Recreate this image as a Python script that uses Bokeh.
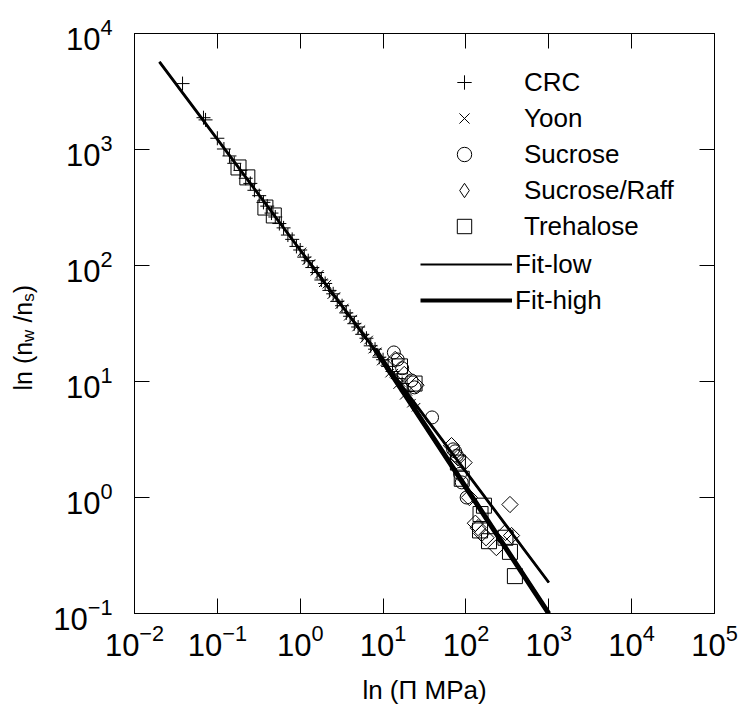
import math
from bokeh.plotting import figure
from bokeh.layouts import row
from bokeh.models import (LogAxis, Legend, LegendItem, Label, FixedTicker, Range1d,
                          CustomJSTickFormatter)
from bokeh.embed import file_html
from bokeh.resources import INLINE

# ---------------- data ----------------
x_ticks = [1e-2, 1e-1, 1e0, 1e1, 1e2, 1e3, 1e4, 1e5]
y_ticks = [1e-1, 1e0, 1e1, 1e2, 1e3, 1e4]

crc_x = [0.038, 0.068, 0.072, 0.10, 0.12, 0.14, 0.16, 0.19, 0.22, 0.25, 0.28, 0.32,
         0.36, 0.40, 0.45, 0.50, 0.56, 0.63, 0.71, 0.80, 0.90, 1.0, 1.12, 1.25, 1.4,
         1.6, 1.8, 2.0, 2.25, 2.5, 2.8, 3.2, 3.6, 4.0, 4.5, 5.0, 5.6, 6.3, 7.1, 8.0,
         9.0, 10, 11.5, 13, 15, 17, 20]
crc_y = [3700, 1880, 1800, 1250, 1010, 880, 760, 660, 565, 510, 445, 400,
         350, 325, 283, 262, 230, 211, 183, 168, 146, 136, 118, 110, 96,
         87, 75, 70, 61, 57, 49, 45, 39, 36.5, 31.5, 29.5, 25.5, 23.6, 20.3, 19.0,
         16.2, 15.4, 13.5, 12.2, 10.6, 9.6, 8.2]

yoon_x = [1.05, 1.2, 1.35, 1.5, 1.7, 1.9, 2.1, 2.4, 2.7, 3.0, 3.4, 3.8, 4.3, 4.8,
          5.4, 6.0, 6.7, 7.5, 8.5, 9.5, 10.5, 12, 13.5, 15, 16.5, 18, 20, 22, 25]
yoon_y = [131, 110, 104, 89, 84, 71, 69, 56, 54, 46, 43, 36.5, 34.5, 29.5,
          28, 23.5, 22.8, 19, 18, 15, 14.8, 11.8, 11.8, 9.4, 9.8, 7.6, 8.2, 6.5, 6.0]

suc_x = [13.5, 15, 17, 22, 24, 39, 70, 74, 78, 85, 89, 102]
suc_y = [17.8, 15.5, 13, 10.2, 8.9, 4.9, 2.6, 2.5, 2.3, 1.6, 1.35, 1.0]

raff_x = [14, 18, 25, 67, 80, 95, 110, 130, 140, 155, 175, 233, 300, 340, 355]
raff_y = [15.5, 11.5, 9.3, 2.8, 2.2, 2.0, 1.0, 0.6, 0.55, 0.49, 0.45, 0.37, 0.5, 0.87, 0.47]

treh_x = [0.18, 0.23, 0.38, 0.48, 16, 24, 80, 89, 148, 150, 165, 190, 300, 340, 390]
treh_y = [700, 575, 316, 270, 13.5, 9.6, 2.0, 1.45, 0.52, 0.72, 0.85, 0.42, 0.45, 0.34, 0.21]

fit_low_x = [0.02, 1000]
fit_low_y = [5700, 0.185]
fit_high_x = [8, 1000]
fit_high_y = [19, 0.1]

FONT = "Liberation Sans"
LABEL_W = 50  # width of the strip that carries the y-axis title
H = 719

# ---------------- main figure ----------------
p = figure(width=748 - LABEL_W, height=H, x_axis_type="log", y_axis_type="log",
           x_range=Range1d(1e-2, 1e5), y_range=Range1d(1e-1, 1e4),
           output_backend="svg", toolbar_location=None,
           min_border_left=132 - LABEL_W, min_border_right=34, min_border_top=33,
           min_border_bottom=106)
p.xgrid.visible = False
p.ygrid.visible = False
p.outline_line_color = "black"
p.outline_line_width = 1
p.background_fill_color = "white"
p.border_fill_color = "white"

for ax, ticks in ((p.xaxis[0], x_ticks), (p.yaxis[0], y_ticks)):
    ax.ticker = FixedTicker(ticks=ticks)
    ax.major_tick_in = 15
    ax.major_tick_out = 0
    ax.minor_tick_line_color = None
    ax.axis_line_color = "black"
    ax.major_tick_line_color = "black"
    ax.major_label_text_font = FONT
    ax.major_label_text_font_size = "31px"
    ax.major_label_text_color = "black"

p.xaxis[0].major_label_standoff = 10
p.yaxis[0].major_label_standoff = 22
p.xaxis[0].axis_label = "ln (\u03a0 MPa)"
p.xaxis[0].axis_label_text_font = FONT
p.xaxis[0].axis_label_text_font_size = "26px"
p.xaxis[0].axis_label_text_font_style = "normal"
p.xaxis[0].axis_label_text_color = "black"
p.xaxis[0].axis_label_standoff = 16

blank = CustomJSTickFormatter(code="return '';")
top = LogAxis(ticker=FixedTicker(ticks=x_ticks), formatter=blank, major_tick_in=15,
              major_tick_out=0, minor_tick_line_color=None, axis_line_color="black",
              major_label_standoff=0)
right = LogAxis(ticker=FixedTicker(ticks=y_ticks), formatter=blank, major_tick_in=15,
                major_tick_out=0, minor_tick_line_color=None, axis_line_color="black",
                major_label_standoff=0)
p.add_layout(top, "above")
p.add_layout(right, "right")

# ---------------- glyphs ----------------
# legend proxies for the fit lines (drawn underneath the real, thicker lines)
r_low_leg = p.line(fit_low_x, fit_low_y, line_color="black", line_width=2)
r_high_leg = p.line(fit_high_x, fit_high_y, line_color="black", line_width=4)

r_low = p.line(fit_low_x, fit_low_y, line_color="black", line_width=2.8)
r_high = p.line(fit_high_x, fit_high_y, line_color="black", line_width=5)

r_crc = p.scatter(crc_x, crc_y, marker="cross", size=14, line_color="black",
                  line_width=1, fill_color=None)
r_yoon = p.scatter(yoon_x, yoon_y, marker="x", size=12, line_color="black",
                   line_width=1, fill_color=None)
r_suc = p.scatter(suc_x, suc_y, marker="circle", size=13, line_color="black",
                  line_width=1, fill_color=None)
r_raff = p.scatter(raff_x, raff_y, marker="square", angle=math.pi / 4, size=11.5,
                   line_color="black", line_width=1, fill_color=None)
r_treh = p.scatter(treh_x, treh_y, marker="square", size=15, line_color="black",
                   line_width=1, fill_color=None)

# legend proxy for the diamond (legend glyphs are never rotated): muted, so the
# plot shows nothing from it while the legend uses its normal glyph
r_raff_leg = p.scatter(raff_x, raff_y, marker="diamond", size=16, line_color="black",
                       line_width=1, fill_color=None, muted_line_alpha=0,
                       muted_fill_alpha=0)
r_raff_leg.muted = True

leg_a = Legend(items=[LegendItem(label="CRC", renderers=[r_crc]),
                      LegendItem(label="Yoon", renderers=[r_yoon]),
                      LegendItem(label="Sucrose", renderers=[r_suc]),
                      LegendItem(label="Sucrose/Raff", renderers=[r_raff_leg]),
                      LegendItem(label="Trehalose", renderers=[r_treh])],
               location=(310, 369), glyph_width=40, glyph_height=36, label_height=36,
               label_standoff=40, spacing=0, padding=0, margin=0,
               border_line_color=None, background_fill_alpha=0,
               label_text_font=FONT, label_text_font_size="26px", label_text_color="black")
leg_b = Legend(items=[LegendItem(label="Fit-low", renderers=[r_low_leg]),
                      LegendItem(label="Fit-high", renderers=[r_high_leg])],
               location=(286, 295), glyph_width=92, glyph_height=36, label_height=36,
               label_standoff=3, spacing=0, padding=0, margin=0,
               border_line_color=None, background_fill_alpha=0,
               label_text_font=FONT, label_text_font_size="26px", label_text_color="black")
p.add_layout(leg_a)
p.add_layout(leg_b)

# ---------------- y axis title (with subscripts) in a narrow strip ----------------
# the strip's frame is aligned with the main frame (bottom edge = y 0 in screen units)
t = figure(width=LABEL_W, height=H, output_backend="svg", toolbar_location=None,
           x_range=Range1d(0, LABEL_W), y_range=Range1d(0, H),
           x_axis_location=None, y_axis_location=None, title=None,
           min_border_left=0, min_border_right=0, min_border_top=0, min_border_bottom=0)
t.outline_line_color = None
t.xgrid.visible = False
t.ygrid.visible = False
t.background_fill_color = "white"
t.border_fill_color = "white"

widths = {"l": .222, "n": .556, " ": .278, "(": .333, ")": .333, "/": .278, "w": .722, "s": .5}
# (text, font size, shift to the right for subscripts, extra gap before)
pieces = [("ln (n", 25, 0, 0), ("w", 17, 6, 0), ("/n", 25, 0, 7), ("s", 17, 6, 0),
          (")", 25, 0, 0)]
pos = 223
for txt, fs, sub, gap in pieces:
    pos += gap
    t.add_layout(Label(x=22 + sub, y=pos, x_units="screen", y_units="screen",
                       text=txt, angle=math.pi / 2, text_font=FONT,
                       text_font_size=f"{fs}px", text_color="black",
                       text_align="left", text_baseline="alphabetic"))
    pos += sum(widths[c] for c in txt) * fs

layout = row(t, p, spacing=0)
open("out.html", "w").write(file_html(layout, INLINE))
